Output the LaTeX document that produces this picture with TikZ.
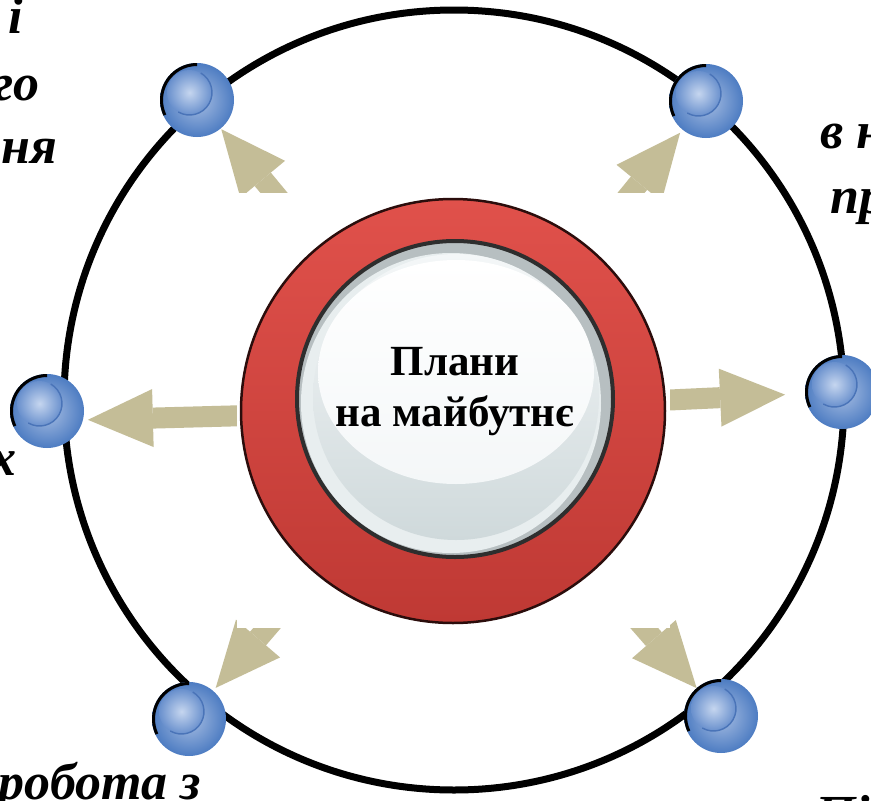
\documentclass[tikz,border=0pt]{standalone}
\usepackage{fontspec}
\setmainfont{Liberation Serif}
\usetikzlibrary{arrows.meta,calc}
\definecolor{arrtan}{HTML}{C4BD97}
\definecolor{ballhi}{HTML}{A9BFE3}
\definecolor{ballout}{HTML}{4D7CC2}
\definecolor{innerhi}{HTML}{C6D6EF}
\definecolor{innerout}{HTML}{6990CD}
\definecolor{innerline}{HTML}{4A74B8}
\definecolor{redtop}{HTML}{E0514B}
\definecolor{redbot}{HTML}{BF3934}
\definecolor{rededge}{HTML}{2B0D0C}
\definecolor{ringgray}{HTML}{B7BFC1}
\definecolor{ringlight}{HTML}{E8EEEF}
\definecolor{facetop}{HTML}{F4F7F8}
\definecolor{facebot}{HTML}{CFD9DB}
\begin{document}
\begin{tikzpicture}[x=1pt,y=-1pt,
  ball/.style={circle, minimum size=74pt, inner sep=0pt, outer sep=0pt,
    shading=radial, inner color=ballhi, outer color=ballout,
    path picture={
      \coordinate (pc) at (path picture bounding box.center);
      \shade[inner color=innerhi, outer color=innerout]
        ($(pc)+(-7.5,-7.5)$) circle (22.5pt);
      \draw[innerline, line width=1.4pt] ($(pc)+(-7.5,-7.5)$) ++(-120:22.5pt) arc (-120:60:22.5pt);
      \draw[black, line width=6pt] (pc) ++(90:37pt) arc (90:205:37pt);
    }},
  arr/.style={draw=arrtan, line width=21pt,
    -{Triangle[width=58pt, length=65pt, line width=0pt]}},
  hub/.style={circle, minimum size=424pt, inner sep=0pt,
    top color=redtop, bottom color=redbot, draw=rededge, line width=2.5pt},
  frag/.style={font=\fontsize{52}{60}\selectfont\bfseries\itshape, inner sep=0pt},
  title/.style={font=\fontsize{43}{51}\selectfont\bfseries, align=center, inner sep=0pt}
]
\useasboundingbox (0,0) rectangle (871,801);
\clip (0,0) rectangle (871,801);
\fill[white] (0,0) rectangle (871,801);

% orbit
\coordinate (O) at (454,400);
\draw[line width=7pt] (O) circle (390pt);

% balls
\node[ball] (b1) at (197,100) {};
\node[ball] (b2) at (706,101) {};
\node[ball] (b3) at (47,411) {};
\node[ball] (b4) at (842,392) {};
\node[ball] (b5) at (189,719) {};
\node[ball] (b6) at (721,716) {};

% arrows
\coordinate (hc) at (454,410);
\draw[arr, shorten >=1pt] (hc) -- (b1);
\draw[arr, shorten >=4pt] (hc) -- (b2);
\draw[arr, shorten >=5pt] (hc) -- (b3.-14);
\draw[arr, shorten >=20pt] (hc) -- (b4);
\draw[arr, shorten >=4pt] (hc) -- (b5);
\draw[arr, shorten >=0pt] (hc) -- (b6);

% picture background that hides the arrow roots
\fill[white] (237,193) rectangle (670,628);

% hub
\node[hub] (hub) at (453,411) {};
\draw[draw=black!82, line width=4pt, fill=ringgray] (455,399) circle (158pt);
\fill[ringlight] (451,403) circle (150pt);
\shade[top color=facetop, bottom color=facebot] (456,397) circle (143pt);
\shade[top color=white, bottom color=facetop] (456,372) ellipse (138pt and 112pt);
\node[title] (txt) at (455,392) {Плани\\на майбутнє};

% partly visible captions
\node[frag, anchor=base east] (t1) at (23,33) {і};
\node[frag, anchor=base east] (t2) at (40,100) {го};
\node[frag, anchor=base east] (t3) at (57,163) {ня};
\node[frag, anchor=base west] (t4) at (820,148) {в н};
\node[frag, anchor=base west] (t5) at (830,213) {пр};
\node[frag, anchor=base east] (t6) at (17,475) {х};
\node[frag, anchor=base west] (t7) at (-2,799) {робота з};
\node[frag, anchor=base west] (t8) at (815,831) {Пі};
\end{tikzpicture}
\end{document}
